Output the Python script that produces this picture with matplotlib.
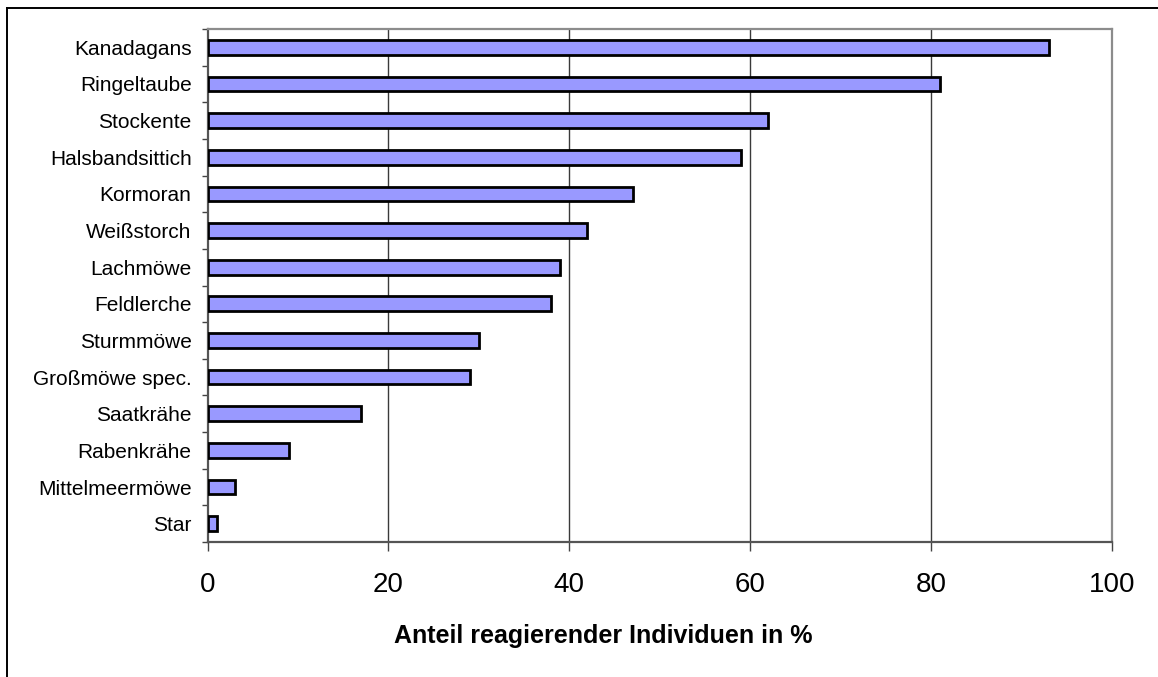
import matplotlib
matplotlib.use("Agg")
import matplotlib.pyplot as plt
from matplotlib.lines import Line2D
import numpy as np

plt.rcParams['font.family'] = ['Liberation Sans', 'DejaVu Sans']

# Species (top to bottom) and share of reacting individuals in %
species = ["Kanadagans", "Ringeltaube", "Stockente", "Halsbandsittich", "Kormoran",
           "Weißstorch", "Lachmöwe", "Feldlerche", "Sturmmöwe", "Großmöwe spec.",
           "Saatkrähe", "Rabenkrähe", "Mittelmeermöwe", "Star"]
share = [93, 81, 62, 59, 47, 42, 39, 38, 30, 29, 17, 9, 3, 1]
x_ticks = [0, 20, 40, 60, 80, 100]
x_label = "Anteil reagierender Individuen in %"

W, H = 1158, 677
fig = plt.figure(figsize=(W / 100, H / 100), dpi=100)
fig.patch.set_facecolor("white")

# Outer chart frame (left and top edges)
fig.add_artist(Line2D([7.5 / W, 7.5 / W], [0, 1 - 7.5 / H], color="black", lw=1.4,
                      transform=fig.transFigure))
fig.add_artist(Line2D([7.5 / W, 1], [1 - 7.5 / H, 1 - 7.5 / H], color="black", lw=1.4,
                      transform=fig.transFigure))

left, right, top, bottom = 207.5, 1112, 29, 542
ax = fig.add_axes([left / W, 1 - bottom / H, (right - left) / W, (bottom - top) / H])

n = len(species)
ypos = np.arange(n)[::-1]
ax.barh(ypos, share, height=0.4, color="#9999FF", edgecolor="black", linewidth=2.0, zorder=3)

ax.set_xlim(0, 100)
ax.set_ylim(-0.5, n - 0.5)

# Vertical gridlines
for v in x_ticks[1:-1]:
    ax.axvline(v, color="#3a3a3a", lw=1.0, zorder=1)

ax.set_xticks(x_ticks)
ax.set_xticklabels([str(v) for v in x_ticks], fontsize=20)
ax.tick_params(axis="x", direction="out", length=6.5, width=1.0, color="#444444", pad=15)

ax.set_yticks(ypos)
ax.set_yticklabels(species, fontsize=15)
ax.tick_params(axis="y", which="major", length=0, pad=11.5)
ax.set_yticks(np.arange(-0.5, n, 1.0), minor=True)
ax.tick_params(axis="y", which="minor", direction="out", length=4.5, width=1.0, color="#444444")

for side in ("top", "right"):
    ax.spines[side].set_color("#8c8c8c")
    ax.spines[side].set_linewidth(1.6)
for side in ("left", "bottom"):
    ax.spines[side].set_color("#555555")
    ax.spines[side].set_linewidth(1.6)

fig.text(603.5 / W, 1 - 643 / H, x_label, fontsize=18, fontweight="bold",
         ha="center", va="baseline")

fig.savefig("out.png", dpi=100, facecolor="white")
